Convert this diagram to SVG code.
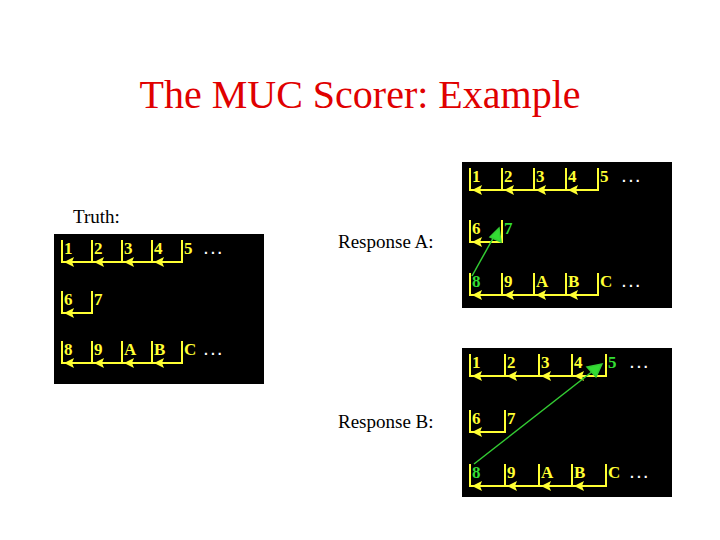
<svg xmlns="http://www.w3.org/2000/svg" width="720" height="540" viewBox="0 0 720 540">
<style>
.t{font-family:"Liberation Serif",serif;font-weight:bold;font-size:17px;fill:#ffff33}
.g{fill:#33dd33}
.d{font-family:"Liberation Sans",sans-serif;font-weight:bold;font-size:14px;fill:#fff;letter-spacing:3px}
.y{stroke:#ffff33;stroke-width:2;fill:none}
.h{fill:#ffff33}
.lab{font-family:"Liberation Serif",serif;font-size:19px;fill:#000}
</style>
<defs>
<polygon id="ah" points="0,0 10,-5 8,0 10,5"/>
</defs>
<rect width="720" height="540" fill="#fff"/>
<text x="360" y="108" text-anchor="middle" font-family="Liberation Serif,serif" font-size="40" fill="#e00000">The MUC Scorer: Example</text>
<text class="lab" x="73" y="223">Truth:</text>
<text class="lab" x="338" y="248">Response A:</text>
<text class="lab" x="338" y="428">Response B:</text>

<g id="truth" transform="translate(54,234)">
<rect width="210" height="150" fill="#000"/>
<g transform="translate(0,28)">
<text class="t" x="10" y="-8">1</text><text class="t" x="40" y="-8">2</text><text class="t" x="70" y="-8">3</text><text class="t" x="100" y="-8">4</text><text class="t" x="130" y="-8">5</text>
<text class="d" x="150" y="-8">...</text>
<path class="y" d="M8,-22V0H128V-22M38,-22V0M68,-22V0M98,-22V0"/>
<g class="h"><use href="#ah" x="10"/><use href="#ah" x="40"/><use href="#ah" x="70"/><use href="#ah" x="100"/></g>
</g>
<g transform="translate(0,79)">
<text class="t" x="10" y="-8">6</text><text class="t" x="40" y="-8">7</text>
<path class="y" d="M8,-22V0H38V-22"/>
<g class="h"><use href="#ah" x="10"/></g>
</g>
<g transform="translate(0,129)">
<text class="t" x="10" y="-8">8</text><text class="t" x="40" y="-8">9</text><text class="t" x="70" y="-8">A</text><text class="t" x="100" y="-8">B</text><text class="t" x="130" y="-8">C</text>
<text class="d" x="150" y="-8">...</text>
<path class="y" d="M8,-22V0H128V-22M38,-22V0M68,-22V0M98,-22V0"/>
<g class="h"><use href="#ah" x="10"/><use href="#ah" x="40"/><use href="#ah" x="70"/><use href="#ah" x="100"/></g>
</g>
</g>

<g id="responseA" transform="translate(462,162)">
<rect width="210" height="146" fill="#000"/>
<g transform="translate(0,28)">
<text class="t" x="10" y="-8">1</text><text class="t" x="42" y="-8">2</text><text class="t" x="74" y="-8">3</text><text class="t" x="106" y="-8">4</text><text class="t" x="138" y="-8">5</text>
<text class="d" x="160" y="-8">...</text>
<path class="y" d="M8,-22V0H136V-22M40,-22V0M72,-22V0M104,-22V0"/>
<g class="h"><use href="#ah" x="10"/><use href="#ah" x="42"/><use href="#ah" x="74"/><use href="#ah" x="106"/></g>
</g>
<g transform="translate(0,80)">
<text class="t" x="10" y="-8">6</text><text class="t g" x="42" y="-8">7</text>
<path class="y" d="M8,-22V0H40V-22"/>
<g class="h"><use href="#ah" x="10"/></g>
</g>
<g transform="translate(0,133)">
<text class="t g" x="10" y="-8">8</text><text class="t" x="42" y="-8">9</text><text class="t" x="74" y="-8">A</text><text class="t" x="106" y="-8">B</text><text class="t" x="138" y="-8">C</text>
<text class="d" x="160" y="-8">...</text>
<path class="y" d="M8,-22V0H136V-22M40,-22V0M72,-22V0M104,-22V0"/>
<g class="h"><use href="#ah" x="10"/><use href="#ah" x="42"/><use href="#ah" x="74"/><use href="#ah" x="106"/></g>
</g>
</g>

<g id="responseB" transform="translate(462,348)">
<rect width="210" height="149" fill="#000"/>
<g transform="translate(0,28)">
<text class="t" x="10" y="-8">1</text><text class="t" x="45" y="-8">2</text><text class="t" x="79" y="-8">3</text><text class="t" x="112" y="-8">4</text><text class="t g" x="146" y="-8">5</text>
<text class="d" x="168" y="-8">...</text>
<path class="y" d="M8,-22V0H144V-22M43,-22V0M77,-22V0M110,-22V0"/>
<g class="h"><use href="#ah" x="10"/><use href="#ah" x="45"/><use href="#ah" x="79"/><use href="#ah" x="112"/></g>
</g>
<g transform="translate(0,84)">
<text class="t" x="10" y="-8">6</text><text class="t" x="45" y="-8">7</text>
<path class="y" d="M8,-22V0H43V-22"/>
<g class="h"><use href="#ah" x="10"/></g>
</g>
<g transform="translate(0,138)">
<text class="t g" x="10" y="-8">8</text><text class="t" x="45" y="-8">9</text><text class="t" x="79" y="-8">A</text><text class="t" x="112" y="-8">B</text><text class="t" x="146" y="-8">C</text>
<text class="d" x="168" y="-8">...</text>
<path class="y" d="M8,-22V0H144V-22M43,-22V0M77,-22V0M110,-22V0"/>
<g class="h"><use href="#ah" x="10"/><use href="#ah" x="45"/><use href="#ah" x="79"/><use href="#ah" x="112"/></g>
</g>
</g>

<g id="connectors" stroke="#33cc33" stroke-width="1.5" fill="#33dd33">
<line x1="472" y1="276" x2="496" y2="233"/>
<polygon points="499,228 501,242 490,237"/>
<line x1="474" y1="464" x2="598" y2="367"/>
<polygon points="602,364 596,377 587,367"/>
</g>
</svg>
